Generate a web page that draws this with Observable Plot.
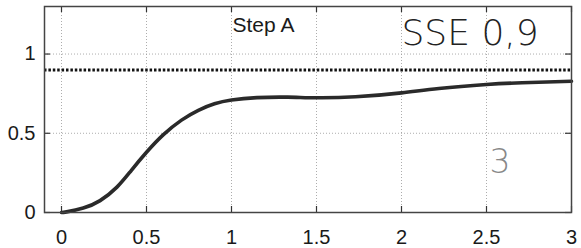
<!DOCTYPE html>
<html><head><meta charset="utf-8">
<script src="https://cdn.jsdelivr.net/npm/d3@7"></script>
<script src="https://cdn.jsdelivr.net/npm/@observablehq/plot@0.6"></script>
<style>
body{margin:0;background:#fff;}
#chart{position:relative;width:581px;height:248px;}
</style></head>
<body><div id="chart"></div>
<script>
const title = "Step A";
const note1 = "SSE 0,9";
const note2 = "3";
const times  = [0, 0.03, 0.128, 0.227, 0.326, 0.41, 0.5, 0.598, 0.706, 0.805, 0.9, 1.0, 1.15, 1.33, 1.5, 1.73, 2.0, 2.22, 2.5, 2.71, 3.0];
const values = [0, 0.004, 0.028, 0.075, 0.16, 0.265, 0.38, 0.49, 0.583, 0.645, 0.686, 0.71, 0.725, 0.728, 0.724, 0.73, 0.755, 0.783, 0.808, 0.819, 0.828];
const refLevel = [0.9];
const xTicks = [0, 0.5, 1, 1.5, 2, 2.5, 3];
const yTicks = [0, 0.5, 1];

const data = times.map((t, i) => ({t, v: values[i]}));
const xDom = [-0.1, 3], yDom = [0, 1.3];
const tx = (xDom[1]-xDom[0]) * 6/527, ty = (yDom[1]-yDom[0]) * 6/206;
const fmt = d => String(d);

const plot = Plot.plot({
  width: 581, height: 248,
  marginLeft: 44, marginRight: 10, marginTop: 6, marginBottom: 36,
  style: {fontFamily: "Liberation Sans, Arial, sans-serif", color: "#1a1a1a", background: "transparent"},
  x: {domain: xDom, label: null, axis: null},
  y: {domain: yDom, label: null, axis: null},
  marks: [
    Plot.gridX(xTicks, {stroke: "#999", strokeOpacity: 0.8, strokeDasharray: "1,2"}),
    Plot.gridY(yTicks, {stroke: "#999", strokeOpacity: 0.8, strokeDasharray: "1,2"}),
    Plot.text(xTicks, {x: d => d, y: 0, text: fmt, lineAnchor: "top", dy: 17, fontSize: 20, fill: "#1a1a1a"}),
    Plot.text(yTicks, {x: xDom[0], y: d => d, text: fmt, textAnchor: "end", dx: -9, fontSize: 20, fill: "#1a1a1a"}),
    Plot.ruleX(xTicks, {y1: 0, y2: ty, stroke: "#333", strokeWidth: 1.2}),
    Plot.ruleX(xTicks, {y1: 1.3, y2: 1.3 - ty, stroke: "#333", strokeWidth: 1.2}),
    Plot.ruleY(yTicks, {x1: -0.1, x2: -0.1 + tx, stroke: "#333", strokeWidth: 1.2}),
    Plot.ruleY(yTicks, {x1: 3, x2: 3 - tx, stroke: "#333", strokeWidth: 1.2}),
    Plot.ruleY(refLevel, {stroke: "#111", strokeWidth: 3, strokeDasharray: "2.5,1.9"}),
    Plot.line(data, {x: "t", y: "v", stroke: "#2a2a2a", strokeWidth: 3.6, curve: "natural"}),
    Plot.frame({stroke: "#444", strokeWidth: 1.5}),
    Plot.text([title], {x: 1.0, y: 1.3, textAnchor: "start", dy: 19, dx: 1, fontSize: 21, fill: "#1a1a1a"}),
    Plot.text([note1], {x: 2.0, y: 1.3, textAnchor: "start", dy: 27, dx: 0, fontSize: 36, fill: "#222", fontFamily: "DejaVu Sans", fontWeight: 200}),
    Plot.text([note2], {x: 2.58, y: 0.316, textAnchor: "middle", fontSize: 33, fill: "#888", fontFamily: "DejaVu Sans", fontWeight: 200})
  ]
});
document.getElementById("chart").appendChild(plot);
</script></body></html>
